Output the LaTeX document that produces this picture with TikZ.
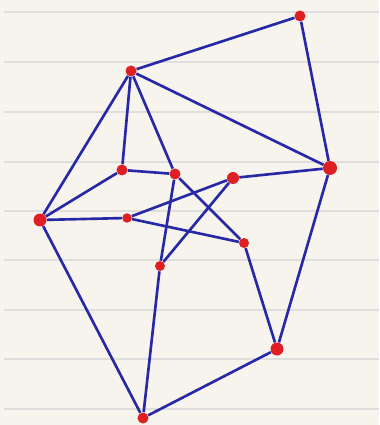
\documentclass[tikz,border=0pt]{standalone}
\usepackage{xcolor}
\usepackage{tikz}
\definecolor{penblue}{RGB}{38, 40, 165}
\definecolor{penred}{RGB}{222, 32, 36}
\definecolor{paper}{RGB}{246, 244, 237}
\definecolor{ruling}{RGB}{222, 222, 220}

\begin{document}
\begin{tikzpicture}[
    x=0.02cm, y=-0.02cm,
    vertex/.style={circle, fill=penred, inner sep=0pt,
                   minimum size=0.22cm},
    edge/.style={line width=1.5pt, color=penblue}
]

% paper and ruled lines
\fill [paper] (0,0) rectangle (379,425);
\useasboundingbox (0,0) rectangle (379,425);
\foreach \y in {12,62,112,162,211,260,310,359,409}
    \draw [ruling, line width=0.6pt] (4,\y) -- (379,\y);

\node (topright) [vertex] at (300,16)  {};
\node (top)      [vertex] at (131,71)  {};
\node (right)    [vertex, minimum size=0.28cm] at (330,168) {};
\node (innerl)   [vertex] at (122,170) {};
\node (innerc)   [vertex] at (175,174) {};
\node (innerr)   [vertex, minimum size=0.24cm] at (233,178) {};
\node (left)     [vertex, minimum size=0.26cm] at (40,220)  {};
\node (midl)     [vertex, minimum size=0.19cm] at (127,218) {};
\node (midr)     [vertex, minimum size=0.2cm] at (244,243) {};
\node (inner)    [vertex, minimum size=0.2cm] at (160,266) {};
\node (lowright) [vertex, minimum size=0.26cm] at (277,349) {};
\node (bottom)   [vertex] at (143,418) {};

\draw [edge] (top)      -- (topright);
\draw [edge] (topright) -- (right);
\draw [edge] (top)      -- (right);
\draw [edge] (top)      -- (left);
\draw [edge] (top)      -- (innerl);
\draw [edge] (top)      -- (innerc);
\draw [edge] (innerl)   -- (innerc);
\draw [edge] (innerl)   -- (left);
\draw [edge] (left)     -- (midl);
\draw [edge] (left)     -- (bottom);
\draw [edge] (innerc)   -- (inner);
\draw [edge] (innerc)   -- (midr);
\draw [edge] (innerr)   -- (right);
\draw [edge] (innerr)   -- (midl);
\draw [edge] (innerr)   -- (inner);
\draw [edge] (midl)     -- (midr);
\draw [edge] (midr)     -- (lowright);
\draw [edge] (right)    -- (lowright);
\draw [edge] (lowright) -- (bottom);
\draw [edge] (inner)    -- (bottom);
\end{tikzpicture}
\end{document}
